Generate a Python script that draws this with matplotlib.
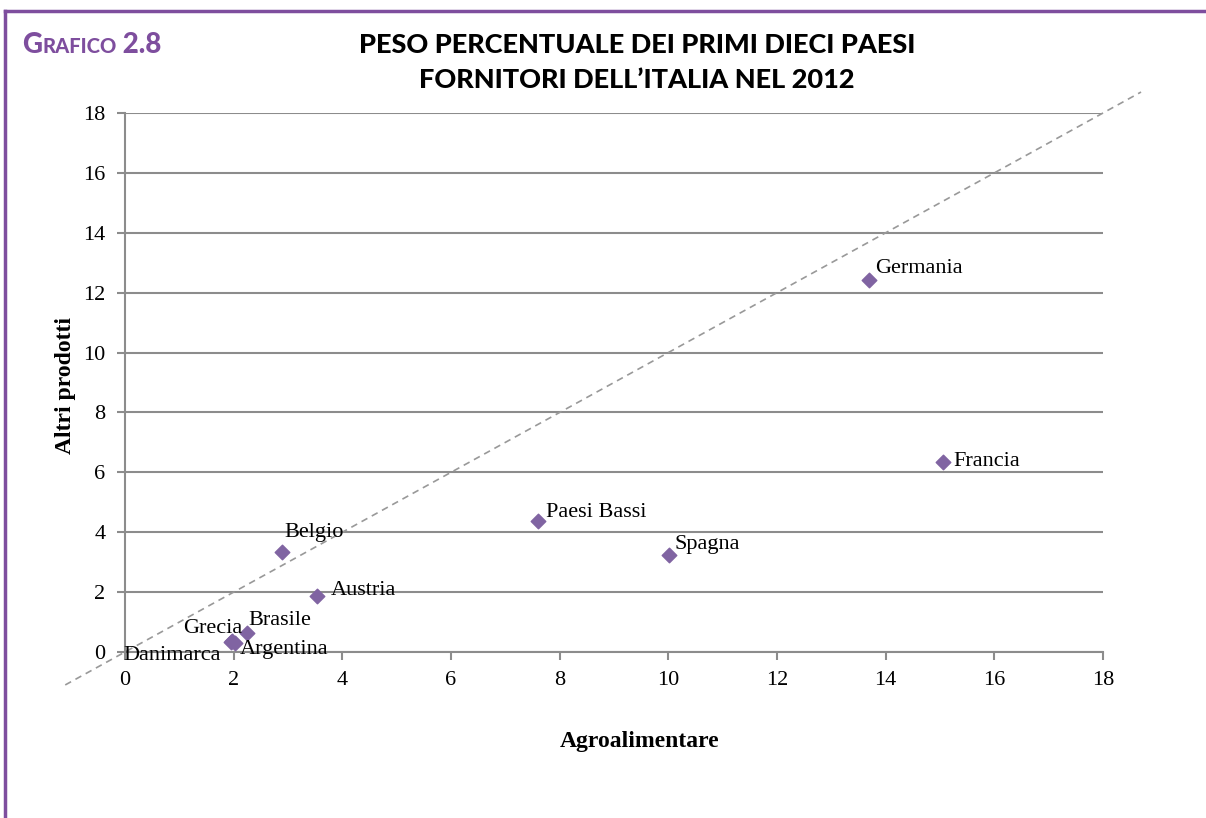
import numpy as np
import matplotlib
matplotlib.use('Agg')
import matplotlib.pyplot as plt
from matplotlib.lines import Line2D

# data (share %)
paesi = ['Germania', 'Francia', 'Paesi Bassi', 'Spagna', 'Belgio',
         'Austria', 'Brasile', 'Grecia', 'Argentina', 'Danimarca']
agro = [13.69, 15.06, 7.60, 10.01, 2.89, 3.53, 2.24, 1.97, 2.02, 1.95]
altri = [12.42, 6.35, 4.38, 3.24, 3.34, 1.87, 0.645, 0.36, 0.30, 0.33]
# label offsets in pixels and alignment
offs = [(6, 12, 'left'), (10, 0, 'left'), (8, 8, 'left'), (6, 10, 'left'),
        (2, 19, 'left'), (14, 6, 'left'), (2, 12, 'left'), (10, 13, 'right'),
        (5, -6, 'left'), (-10, -13, 'right')]
ticks = [0, 2, 4, 6, 8, 10, 12, 14, 16, 18]

purple = '#7E4E9E'
mark = '#8064A2'
grey = '#8c8c8c'
serif = ['Liberation Serif', 'DejaVu Serif']
sans = ['Lato', 'DejaVu Sans']

fig = plt.figure(figsize=(12.06, 8.18), dpi=100)
ax = fig.add_axes([125/1206, 1-652/818, 978/1206, 539/818])

ax.set_xlim(0, 18)
ax.set_ylim(0, 18)
ax.set_xticks(ticks)
ax.set_yticks(ticks)
ax.grid(axis='y', color=grey, linewidth=1.5)
ax.set_axisbelow(True)
for s in ['top', 'right']:
    ax.spines[s].set_visible(False)
for s in ['left', 'bottom']:
    ax.spines[s].set_color(grey)
    ax.spines[s].set_linewidth(1.5)
ax.tick_params(direction='out', length=6, width=1.5, color=grey, pad=8,
               labelsize=16)
for lab in ax.get_xticklabels() + ax.get_yticklabels():
    lab.set_family(serif)

# bisector y = x, runs past the plot area
ax.plot([-1.1, 18.7], [-1.1, 18.7], ls=(0, (4, 3)), color='#999999', lw=1.2,
        clip_on=False, zorder=2)

ax.scatter(agro, altri, marker='D', s=55, color=mark, zorder=3, clip_on=False)
for n, x, y, (dx, dy, ha) in zip(paesi, agro, altri, offs):
    ax.annotate(n, (x, y), xytext=(dx, dy), textcoords='offset pixels',
                ha=ha, va='center', fontsize=16, family=serif, zorder=4)

fig.text(66/1206, 1-386/818, 'Altri prodotti', rotation=90, ha='center',
         va='center', fontsize=17, fontweight='bold', family=serif)
fig.text(640/1206, 1-741/818, 'Agroalimentare', ha='center', va='center',
         fontsize=17, fontweight='bold', family=serif)

# title
fig.text(637/1206, 1-45/818, 'PESO PERCENTUALE DEI PRIMI DIECI PAESI',
         ha='center', va='center', fontsize=19.5, fontweight='black',
         family=sans)
fig.text(637/1206, 1-80/818, 'FORNITORI DELL\u2019ITALIA NEL 2012',
         ha='center', va='center', fontsize=19.5, fontweight='black',
         family=sans)

# "GRAFICO 2.8" in small caps
fig.canvas.draw()
r = fig.canvas.get_renderer()
x0 = 22
for part, size in [('G', 20), ('RAFICO', 14.5), (' 2.8', 20)]:
    t = fig.text(x0/1206, 1-53/818, part, ha='left', va='baseline',
                 fontsize=size, fontweight='black', color=purple,
                 family=sans)
    x0 += t.get_window_extent(r).width

# frame lines
fig.add_artist(Line2D([5/1206, 1], [1-11/818, 1-11/818], color=purple, lw=2.5,
                      transform=fig.transFigure))
fig.add_artist(Line2D([5/1206, 5/1206], [0, 1-11/818], color=purple, lw=2.5,
                      transform=fig.transFigure))

fig.savefig('out.png', dpi=100)
